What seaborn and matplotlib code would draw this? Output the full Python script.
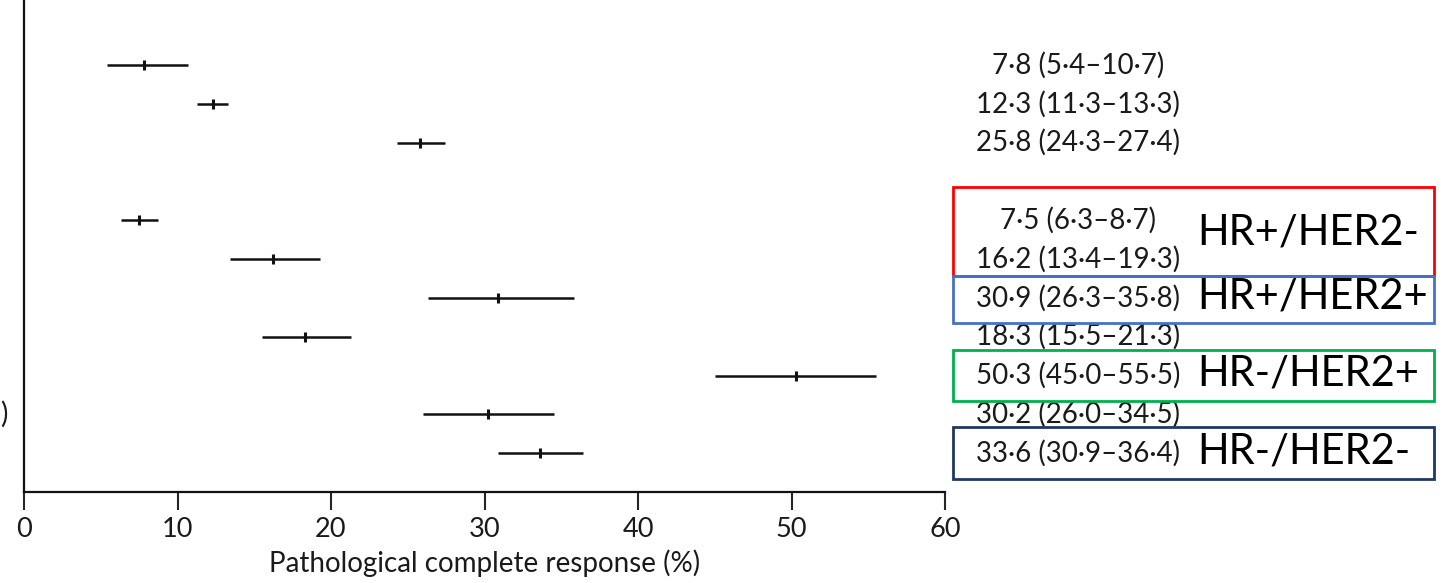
import matplotlib
matplotlib.use("Agg")
import matplotlib.pyplot as plt
import matplotlib.transforms as mtransforms
from matplotlib.patches import Rectangle
import seaborn as sns
import numpy as np
import pandas as pd

# ---- data ----
estimate = [7.8, 12.3, 25.8, 7.5, 16.2, 30.9, 18.3, 50.3, 30.2, 33.6]
ci_low   = [5.4, 11.3, 24.3, 6.3, 13.4, 26.3, 15.5, 45.0, 26.0, 30.9]
ci_high  = [10.7, 13.3, 27.4, 8.7, 19.3, 35.8, 21.3, 55.5, 34.5, 36.4]
section  = [0, 0, 0, 1, 1, 1, 1, 1, 1, 1]
labels   = ["7·8 (5·4–10·7)", "12·3 (11·3–13·3)", "25·8 (24·3–27·4)",
            "7·5 (6·3–8·7)", "16·2 (13·4–19·3)", "30·9 (26·3–35·8)",
            "18·3 (15·5–21·3)", "50·3 (45·0–55·5)", "30·2 (26·0–34·5)",
            "33·6 (30·9–36·4)"]
subtypes = ["HR+/HER2-", "HR+/HER2+", "HR-/HER2+", "HR-/HER2-"]
subtype_rows = [(3, 4), (5, 5), (7, 7), (9, 9)]
box_colors = ["#FF0000", "#4472C4", "#00B050", "#203864"]
xticks = [0, 10, 20, 30, 40, 50, 60]
xlabel = "Pathological complete response (%)"

df = pd.DataFrame({"est": estimate, "lo": ci_low, "hi": ci_high, "sec": section})
df["y"] = np.arange(len(df)) + df["sec"]

sns.set_style("white")
plt.rcParams["font.family"] = ["Lato", "DejaVu Sans"]

fig = plt.figure(figsize=(14.43, 5.83), dpi=100)
ax = fig.add_axes([24 / 1443, 1 - 492 / 583, (945 - 24) / 1443, 492 / 583])

ax.hlines(df["y"], df["lo"], df["hi"], color="#111111", lw=1.8)
sns.scatterplot(data=df, x="est", y="y", marker="|", s=55, linewidth=2.2,
                color="#111111", ax=ax, legend=False, zorder=3)

ax.set_xlim(0, 60)
ax.set_ylim(11, -1.68)
ax.set_xticks(xticks)
ax.set_xticklabels([str(t) for t in xticks], fontsize=19.5, color="#1a1a1a")
ax.set_yticks([])
ax.set_ylabel("")
ax.set_xlabel(xlabel, fontsize=20, color="#1a1a1a", labelpad=5)
ax.tick_params(axis="x", direction="out", length=13, width=1.5, pad=5, bottom=True)
for side in ["top", "right"]:
    ax.spines[side].set_visible(False)
for side in ["left", "bottom"]:
    ax.spines[side].set_linewidth(1.6)
    ax.spines[side].set_color("#111111")

trans = mtransforms.blended_transform_factory(fig.transFigure, ax.transData)

# CI text column
for yv, txt in zip(df["y"], labels):
    ax.text(1078 / 1443, yv, txt, transform=trans, ha="center", va="center",
            fontsize=20, color="#1a1a1a", clip_on=False)

# left-edge cropped label fragment
ax.text(0.0, df["y"].iloc[8], ")", transform=trans, ha="left", va="center",
        fontsize=20, color="#1a1a1a", clip_on=False)

# subtype boxes and labels
ys = df["y"].to_numpy()
pads = [(0.86, 0.44), (0.57, 0.64), (0.67, 0.65), (0.67, 0.67)]
for name, (r0, r1), col, (pt, pb) in zip(subtypes, subtype_rows, box_colors, pads):
    y0 = ys[r0] - pt
    y1 = ys[r1] + pb
    rect = Rectangle((953 / 1443, y0), (1434 - 953) / 1443, y1 - y0,
                     transform=trans, fill=False, edgecolor=col, lw=2,
                     clip_on=False, zorder=5)
    fig.add_artist(rect)
    ax.text(1197 / 1443, (ys[r0] + ys[r1]) / 2 - (0.2 if r0 != r1 else 0.05), name,
            transform=trans, ha="left", va="center", fontsize=30,
            color="black", clip_on=False)

fig.savefig("out.png", dpi=100)
